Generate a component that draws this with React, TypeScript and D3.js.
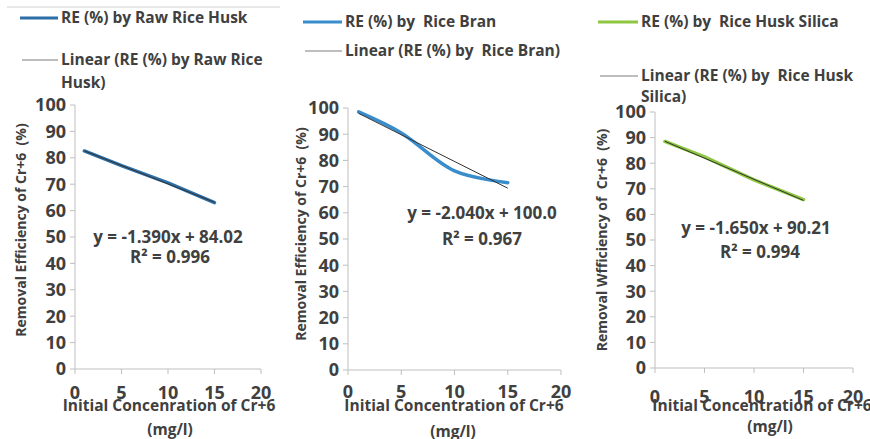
import * as d3 from 'd3';
import React from 'react';

// concentrations (mg/l) and removal efficiencies (%)
const concentrations = [1, 5, 10, 15];
const reRawHusk = [82.6, 77, 70.5, 63];
const reRiceBran = [98.5, 90.5, 76, 71.5];
const reHuskSilica = [88.5, 82.5, 73.5, 65.8];

const trendSlopes = [-1.39, -2.04, -1.65];
const trendIntercepts = [84.02, 100.0, 90.21];
const equationLabels = ['y = -1.390x + 84.02', 'y = -2.040x + 100.0', 'y = -1.650x + 90.21'];
const r2Labels = ['R² = 0.996', 'R² = 0.967', 'R² = 0.994'];

const seriesNames = ['RE (%) by Raw Rice Husk', 'RE (%) by  Rice Bran', 'RE (%) by  Rice Husk Silica'];
const linearNames = [
  ['Linear (RE (%) by Raw Rice', 'Husk)'],
  ['Linear (RE (%) by  Rice Bran)'],
  ['Linear (RE (%) by  Rice Husk', 'Silica)'],
];
const yTitles = ['Removal Efficiency of Cr+6  (%)', 'Removal Efficiency of Cr+6  (%)', 'Removal Wfficiency of  Cr+6  (%)'];
const xTitles = ['Initial Concenration of Cr+6', 'Initial Concentration of Cr+6', 'Initial Concentration of Cr+6'];

const yTicks = [0, 10, 20, 30, 40, 50, 60, 70, 80, 90, 100];
const xTicks = [0, 5, 10, 15, 20];

const FONT = "'Open Sans', sans-serif";
const TXT = '#404040';
const AXIS = '#bfbfbf';

interface PanelLayout {
  x0: number; x1: number; y0: number; y1: number;
  color: string;
  legendX: number; legendY: number[]; lineX: [number, number];
  eq: [number, number]; r2: [number, number];
  yTitle: [number, number];
  xTickY: number; xTitleY: number; unitY: number; xTitleX: number; unitX: number;
  curve: boolean;
}

const layouts: PanelLayout[] = [
  { x0: 75, x1: 261, y0: 369, y1: 105, color: '#2c6fa6', legendX: 61, legendY: [18, 60, 83], lineX: [20, 58],
    eq: [168, 237], r2: [170, 257], yTitle: [21, 230], xTickY: 393, xTitleY: 406, unitY: 430, xTitleX: 169, unitX: 170, curve: false },
  { x0: 348, x1: 561, y0: 370, y1: 108, color: '#3a8dcb', legendX: 345, legendY: [22, 51], lineX: [303, 342],
    eq: [482, 213], r2: [482, 239], yTitle: [301, 234], xTickY: 392, xTitleY: 406, unitY: 432, xTitleX: 454, unitX: 453, curve: true },
  { x0: 655, x1: 853, y0: 368, y1: 112, color: '#8dc63f', legendX: 641, legendY: [22, 76, 97], lineX: [598, 638],
    eq: [756, 228], r2: [760, 252], yTitle: [602, 240], xTickY: 397, xTitleY: 406, unitY: 427, xTitleX: 762, unitX: 770, curve: false },
];

const seriesData = [reRawHusk, reRiceBran, reHuskSilica];

const pre: React.CSSProperties = { whiteSpace: 'pre' };

const Panel: React.FC<{ i: number }> = ({ i }) => {
  const L = layouts[i];
  const x = d3.scaleLinear().domain([0, 20]).range([L.x0, L.x1]);
  const y = d3.scaleLinear().domain([0, 100]).range([L.y0, L.y1]);
  const pts = concentrations.map((c, k) => [c, seriesData[i][k]] as [number, number]);
  const line = d3
    .line<[number, number]>()
    .x((d) => x(d[0]))
    .y((d) => y(d[1]))
    .curve(L.curve ? d3.curveCatmullRom.alpha(0.5) : d3.curveLinear);
  const xMin = concentrations[0];
  const xMax = concentrations[concentrations.length - 1];
  const trend: [number, number][] = [xMin, xMax].map((c) => [c, trendSlopes[i] * c + trendIntercepts[i]]);

  return (
    <g fontFamily={FONT} fontWeight={700} fill={TXT}>
      {/* legend */}
      <line x1={L.lineX[0]} x2={L.lineX[1]} y1={L.legendY[0]} y2={L.legendY[0]} stroke={L.color} strokeWidth={3} />
      <text x={L.legendX} y={L.legendY[0]} dy="0.35em" fontSize={15.5} style={pre}>{seriesNames[i]}</text>
      <line x1={L.lineX[0] + 2} x2={L.lineX[1]} y1={L.legendY[1]} y2={L.legendY[1]} stroke="#7f7f7f" strokeWidth={1.2} />
      {linearNames[i].map((t, k) => (
        <text key={k} x={L.legendX} y={L.legendY[1 + k]} dy="0.35em" fontSize={15.5} style={pre}>{t}</text>
      ))}

      {/* axes */}
      <line x1={L.x0} x2={L.x0} y1={y(0)} y2={y(100)} stroke={AXIS} />
      <line x1={L.x0} x2={L.x1} y1={y(0)} y2={y(0)} stroke={AXIS} />
      {yTicks.map((t) => (
        <g key={t}>
          <line x1={L.x0 - 5} x2={L.x0} y1={y(t)} y2={y(t)} stroke={AXIS} />
          <text x={L.x0 - 9} y={y(t)} dy="0.35em" textAnchor="end" fontSize={18}>{t}</text>
        </g>
      ))}
      {xTicks.map((t) => (
        <g key={t}>
          <line x1={x(t)} x2={x(t)} y1={y(0)} y2={y(0) + 5} stroke={AXIS} />
          <text x={x(t)} y={L.xTickY} dy="0.35em" textAnchor="middle" fontSize={18}>{t}</text>
        </g>
      ))}

      {/* titles */}
      <text transform={`translate(${L.yTitle[0]},${L.yTitle[1]}) rotate(-90)`} textAnchor="middle" dy="0.35em" fontSize={14} style={pre}>
        {yTitles[i]}
      </text>
      <text x={L.xTitleX} y={L.xTitleY} dy="0.35em" textAnchor="middle" fontSize={15.5}>{xTitles[i]}</text>
      <text x={L.unitX} y={L.unitY} dy="0.35em" textAnchor="middle" fontSize={15.5}>(mg/l)</text>

      {/* data */}
      <path d={line(pts) ?? ''} fill="none" stroke={L.color} strokeWidth={3.5} strokeLinecap="round" />
      <path d={line(trend) ?? ''} fill="none" stroke="#333" strokeWidth={1} />

      <text x={L.eq[0]} y={L.eq[1]} dy="0.35em" textAnchor="middle" fontSize={17}>{equationLabels[i]}</text>
      <text x={L.r2[0]} y={L.r2[1]} dy="0.35em" textAnchor="middle" fontSize={17}>{r2Labels[i]}</text>
    </g>
  );
};

const App: React.FC = () => (
  <div style={{ position: 'absolute', left: 0, top: 0, background: 'white' }}>
    <svg width={870} height={439}>
      <rect width={870} height={439} fill="white" />
      <line x1={7} x2={280} y1={7} y2={7} stroke="#d0d0d0" />
      {[0, 1, 2].map((i) => (
        <Panel key={i} i={i} />
      ))}
    </svg>
  </div>
);

export default App;
